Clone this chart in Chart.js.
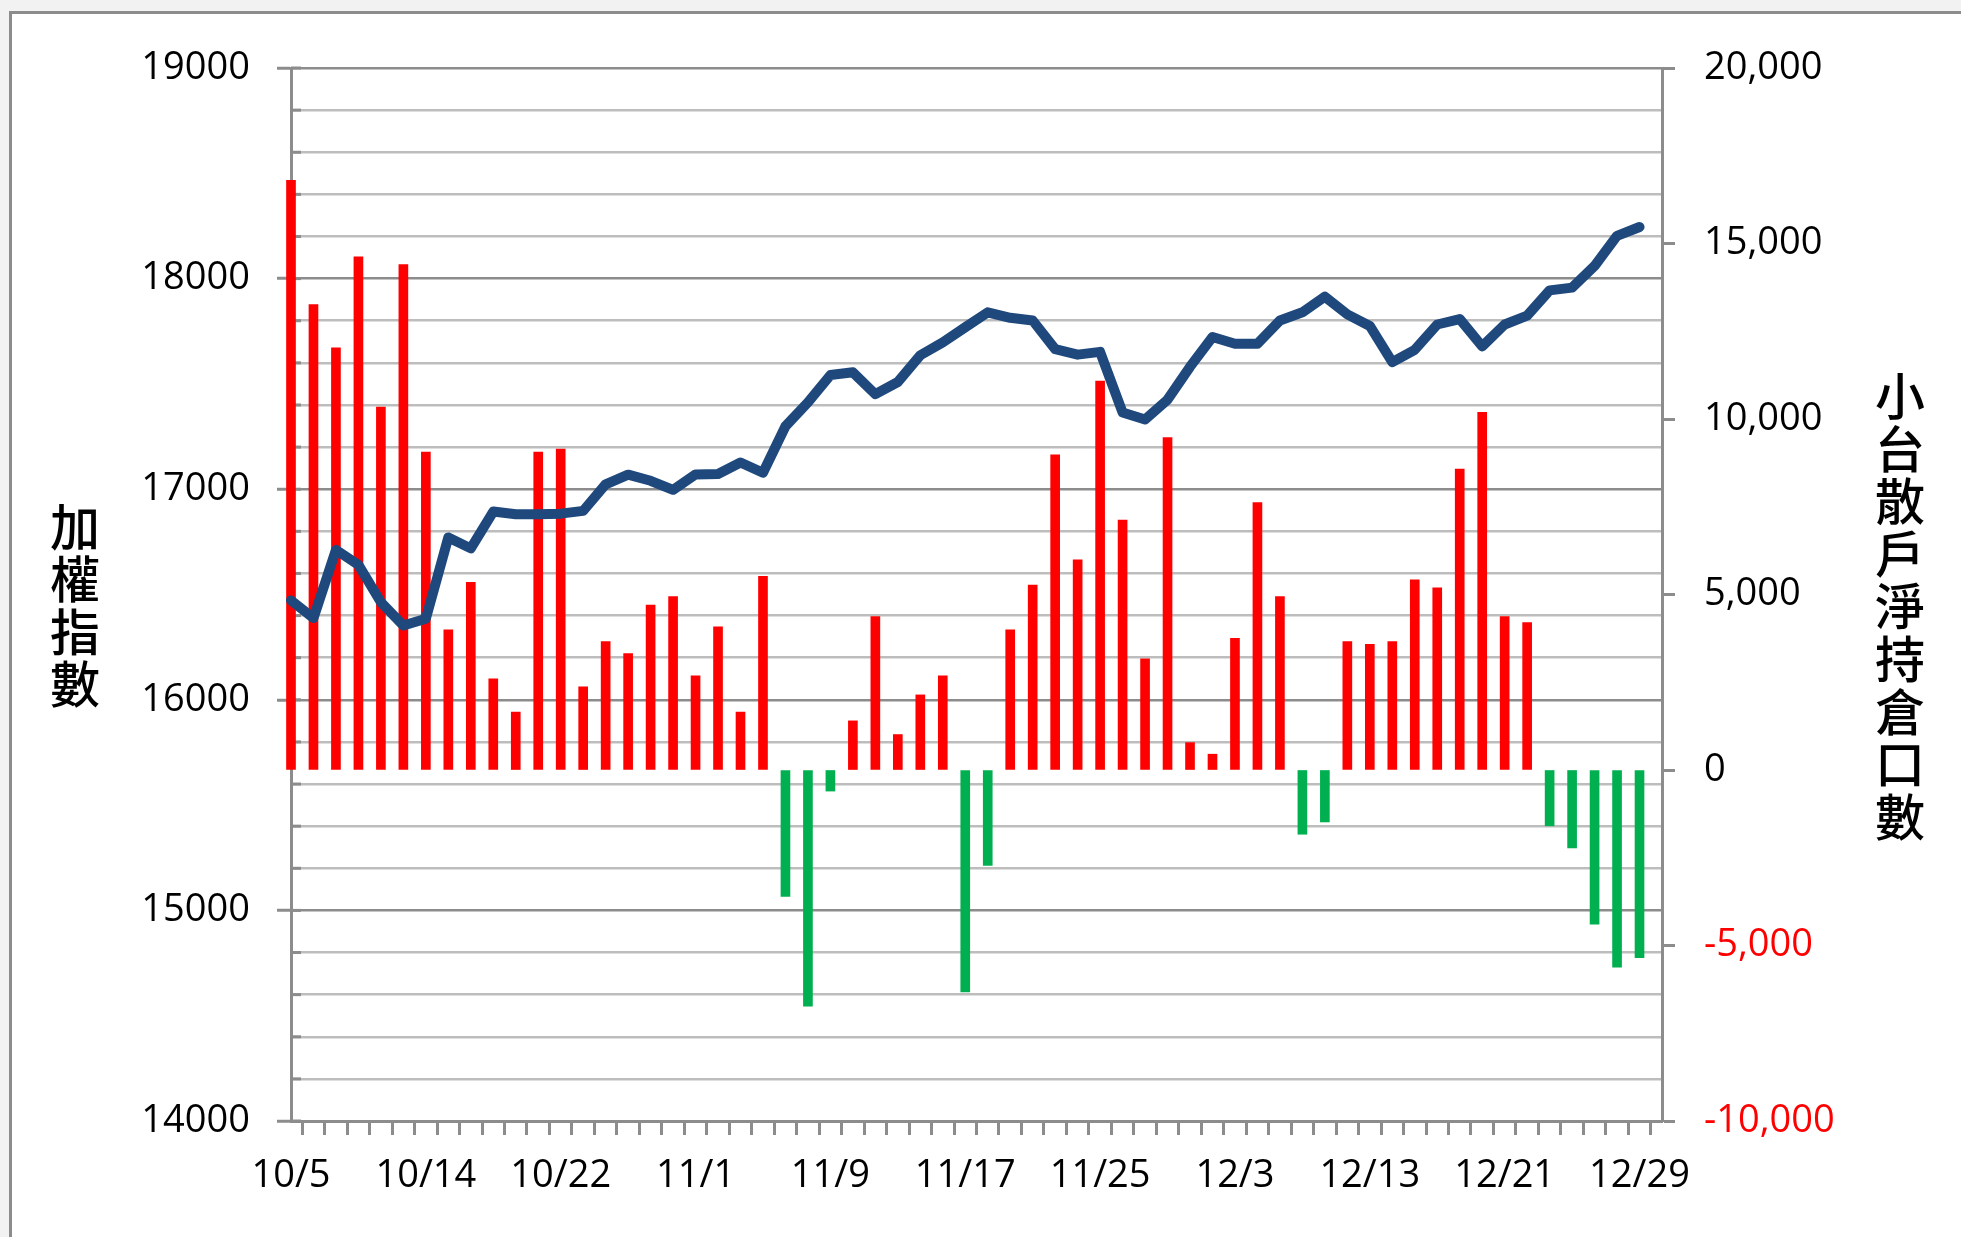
<!DOCTYPE html>
<html>
<head>
<meta charset="utf-8">
<script src="https://cdn.jsdelivr.net/npm/chart.js@4/dist/chart.umd.min.js"></script>
<style>
  html, body { margin: 0; padding: 0; background: #ffffff; }
  canvas { display: block; }
</style>
</head>
<body>
<canvas id="chart" width="1961" height="1237"></canvas>
<script>
// trading days, 10/5 - 12/30 (last day has no value)
const days = [
  "10/5", "10/6", "10/7", "10/8", "10/12", "10/13", "10/14", "10/15", "10/18", "10/19",
  "10/20", "10/21", "10/22", "10/25", "10/26", "10/27", "10/28", "10/29", "11/1", "11/2",
  "11/3", "11/4", "11/5", "11/8", "11/9", "11/10", "11/11", "11/12", "11/15", "11/16",
  "11/17", "11/18", "11/19", "11/22", "11/23", "11/24", "11/25", "11/26", "11/29", "11/30",
  "12/1", "12/2", "12/3", "12/6", "12/7", "12/8", "12/9", "12/10", "12/13", "12/14",
  "12/15", "12/16", "12/17", "12/20", "12/21", "12/22", "12/23", "12/24", "12/27", "12/28",
  "12/29", "12/30"
];

// 加權指數 (left axis)
const taiex = [
  16472, 16388, 16712, 16641, 16463, 16353, 16385, 16771, 16719, 16894,
  16881, 16881, 16884, 16897, 17023, 17069, 17040, 16997, 17070, 17072,
  17127, 17078, 17299, 17412, 17542, 17555, 17451, 17509, 17636, 17697,
  17769, 17840, 17814, 17801, 17665, 17639, 17652, 17364, 17331, 17425,
  17581, 17723, 17691, 17691, 17801, 17840, 17914, 17830, 17775, 17603,
  17662, 17782, 17808, 17678, 17782, 17824, 17944, 17957, 18060, 18203,
  18245, null
];

// 小台散戶淨持倉口數 (right axis)
const retailNet = [
  16800, 13260, 12030, 14620, 10340, 14400, 9060, 3990, 5350, 2600,
  1650, 9060, 9140, 2370, 3660, 3320, 4700, 4940, 2680, 4080,
  1650, 5520, -3600, -6730, -600, 1400, 4370, 1010, 2140, 2680,
  -6320, -2720, 3990, 5270, 8980, 5990, 11080, 7120, 3170, 9470,
  780, 450, 3750, 7620, 4940, -1830, -1480, 3660, 3580, 3660,
  5420, 5190, 8570, 10190, 4370, 4200, -1590, -2220, -4390, -5620,
  -5350, null
];

const leftTitle = "加權指數";
const rightTitle = "小台散戶淨持倉口數";

const tickFont = { family: "'Open Sans', 'Noto Sans CJK TC', sans-serif", size: 38 };
const axisGray = "#8c8c8c";
const gridGray = "#bdbdbd";

// frame, minor ticks on the left axis and vertical titles
const decoPlugin = {
  id: "deco",
  beforeDraw(chart) {
    const c = chart.ctx;
    c.save();
    c.fillStyle = "#f2f2f2";
    c.fillRect(0, 0, chart.width, 11);
    c.fillRect(0, 0, 9, chart.height);
    c.strokeStyle = axisGray;
    c.lineWidth = 3;
    c.beginPath();
    c.moveTo(10.5, chart.height + 5);
    c.lineTo(10.5, 12.5);
    c.lineTo(chart.width + 5, 12.5);
    c.stroke();
    c.restore();
  },
  beforeDatasetsDraw(chart) {
    const c = chart.ctx;
    const y = chart.scales.y;
    c.save();
    c.strokeStyle = axisGray;
    c.lineWidth = 3;
    y.ticks.forEach(t => {
      const py = y.getPixelForValue(t.value);
      c.beginPath();
      c.moveTo(y.right, py);
      c.lineTo(y.right + 10, py);
      c.stroke();
    });
    c.restore();
  },
  afterDraw(chart) {
    const c = chart.ctx;
    c.save();
    c.fillStyle = "#000";
    c.font = "500 50px 'Noto Sans CJK TC', sans-serif";
    c.textAlign = "center";
    c.textBaseline = "middle";
    [...leftTitle].forEach((ch, i) => c.fillText(ch, 75, 527 + i * 52.3));
    [...rightTitle].forEach((ch, i) => c.fillText(ch, 1900, 396 + i * 52.6));
    c.restore();
  }
};

const ctx = document.getElementById("chart").getContext("2d");

const chart = new Chart(ctx, {
  type: "bar",
  data: {
    labels: days,
    datasets: [
      {
        type: "line",
        label: leftTitle,
        data: taiex,
        yAxisID: "y",
        borderColor: "#1F497D",
        borderWidth: 10,
        borderJoinStyle: "round",
        borderCapStyle: "round",
        pointRadius: 0,
        tension: 0,
        order: 0
      },
      {
        type: "bar",
        label: rightTitle,
        data: retailNet,
        yAxisID: "y1",
        backgroundColor: retailNet.map(v => v < 0 ? "#00B050" : "#FF0000"),
        barThickness: 9,
        clip: false,
        order: 1
      }
    ]
  },
  options: {
    responsive: false,
    animation: false,
    devicePixelRatio: 1,
    layout: { padding: { top: 68, left: 0, right: 0, bottom: 0 } },
    plugins: {
      legend: { display: false },
      tooltip: { enabled: false }
    },
    scales: {
      x: {
        offset: false,
        afterFit: s => { s.height = 116; },
        grid: {
          drawOnChartArea: false,
          drawTicks: true,
          tickLength: 14,
          tickColor: axisGray,
          tickWidth: 3
        },
        border: { color: axisGray, width: 3 },
        ticks: {
          autoSkip: false,
          maxRotation: 0,
          padding: 18,
          color: "#000",
          font: tickFont,
          callback: (v, i) => i % 6 === 0 ? days[i] : ""
        }
      },
      y: {
        position: "left",
        min: 14000,
        max: 19000,
        afterFit: s => { s.width = 291; },
        grid: {
          color: c => c.tick.value % 1000 === 0 ? axisGray : gridGray,
          lineWidth: 2.5,
          tickLength: 14,
          tickColor: c => c.tick.value % 1000 === 0 ? axisGray : "rgba(0,0,0,0)",
          tickWidth: 3
        },
        border: { color: axisGray, width: 3 },
        ticks: {
          stepSize: 200,
          maxTicksLimit: 40,
          autoSkip: false,
          padding: 27,
          color: "#000",
          font: tickFont,
          callback: v => v % 1000 === 0 ? String(v) : ""
        }
      },
      y1: {
        position: "right",
        min: -10000,
        max: 20000,
        afterFit: s => { s.width = 299; },
        grid: {
          drawOnChartArea: false,
          tickLength: 13,
          tickColor: axisGray,
          tickWidth: 3
        },
        border: { color: axisGray, width: 3 },
        ticks: {
          stepSize: 5000,
          padding: 29,
          font: tickFont,
          color: c => c.tick.value < 0 ? "#FF0000" : "#000",
          callback: v => v.toLocaleString("en-US")
        }
      }
    }
  },
  plugins: [decoPlugin]
});
</script>
</body>
</html>
